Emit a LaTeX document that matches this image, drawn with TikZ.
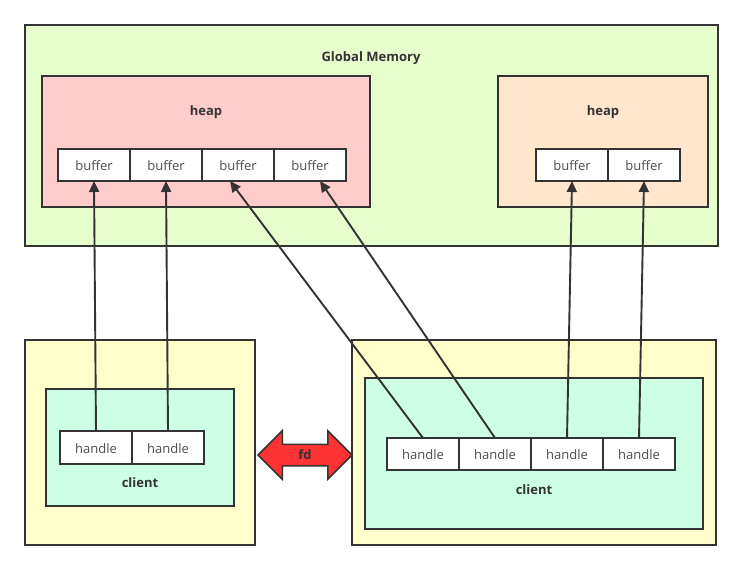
\documentclass[tikz,border=0pt]{standalone}
\usepackage{fontspec}
\setmainfont{Open Sans}
\usetikzlibrary{arrows.meta,shapes.arrows,positioning}
\definecolor{ink}{HTML}{333333}
\definecolor{txt}{HTML}{4D4D4D}
\definecolor{gmfill}{HTML}{E6FFCC}
\definecolor{heapa}{HTML}{FFCCCC}
\definecolor{heapb}{HTML}{FFE6CC}
\definecolor{outerfill}{HTML}{FFFFCC}
\definecolor{innerfill}{HTML}{CCFFE6}
\definecolor{fdred}{HTML}{FF3333}
\begin{document}
\begin{tikzpicture}[x=1pt,y=-1pt,
  box/.style={draw=ink,line width=2.2pt,inner sep=0pt,outer sep=0pt},
  cell/.style={box,fill=white,minimum width=72pt,minimum height=32pt,font=\fontsize{13}{15}\selectfont,text=txt,text height=11.5pt,text depth=0pt},
  title/.style={font=\fontsize{13}{15}\selectfont\bfseries,text=ink},
  link/.style={draw=ink,line width=1.9pt,-{Triangle[length=11pt,width=10pt]}}]
\useasboundingbox (0,0) rectangle (743,570);

% Global memory
\node[box,fill=gmfill,minimum width=693pt,minimum height=221pt] (gm) at (371.5,135.5) {};
\node[title] (gmlabel) at (371,58) {Global Memory};

% left heap with four buffers
\node[box,fill=heapa,minimum width=328pt,minimum height=131pt] (heapA) at (206,141.5) {};
\node[title] (heapAlabel) at (206,112.5) {heap};
\foreach \i/\x in {1/94,2/166,3/238,4/310}
  \node[cell] (b\i) at (\x,165) {buffer};

% right heap with two buffers
\node[box,fill=heapb,minimum width=210pt,minimum height=131pt] (heapB) at (603,141.5) {};
\node[title] (heapBlabel) at (603,112.5) {heap};
\foreach \i/\x in {1/572,2/644}
  \node[cell] (rb\i) at (\x,165) {buffer};

% left client
\node[box,fill=outerfill,minimum width=230pt,minimum height=205pt] (procA) at (140,442.5) {};
\node[box,fill=innerfill,minimum width=188pt,minimum height=117pt] (clientA) at (140,447.5) {};
\foreach \i/\x in {1/96,2/168}
  \node[cell,minimum height=33pt] (h\i) at (\x,447.5) {handle};
\node[title] (clientAlabel) at (140,482.5) {client};

% right client
\node[box,fill=outerfill,minimum width=364pt,minimum height=205pt] (procB) at (534,442.5) {};
\node[box,fill=innerfill,minimum width=338pt,minimum height=151pt] (clientB) at (534,453.5) {};
\foreach \i/\x in {1/423,2/495,3/567,4/639}
  \node[cell] (rh\i) at (\x,454) {handle};
\node[title] (clientBlabel) at (534,489.5) {client};

% fd passed between the clients
\node[double arrow,draw=ink,fill=fdred,line width=1.5pt,minimum height=94pt,
  double arrow head extend=13.5pt,inner xsep=0pt,inner ysep=4pt,
  text height=10pt,text depth=2pt,title] (fd) at (305,455) {fd};

% handles point at buffers
\draw[link] (h1.north) -- (b1.south);
\draw[link] (h2.north) -- (b2.south);
\draw[link] (rh1.north) -- ([xshift=-8pt]b3.south);
\draw[link] (rh2.north) -- ([xshift=10pt]b4.south);
\draw[link] (rh3.north) -- (rb1.south);
\draw[link] (rh4.north) -- (rb2.south);

\end{tikzpicture}
\end{document}
